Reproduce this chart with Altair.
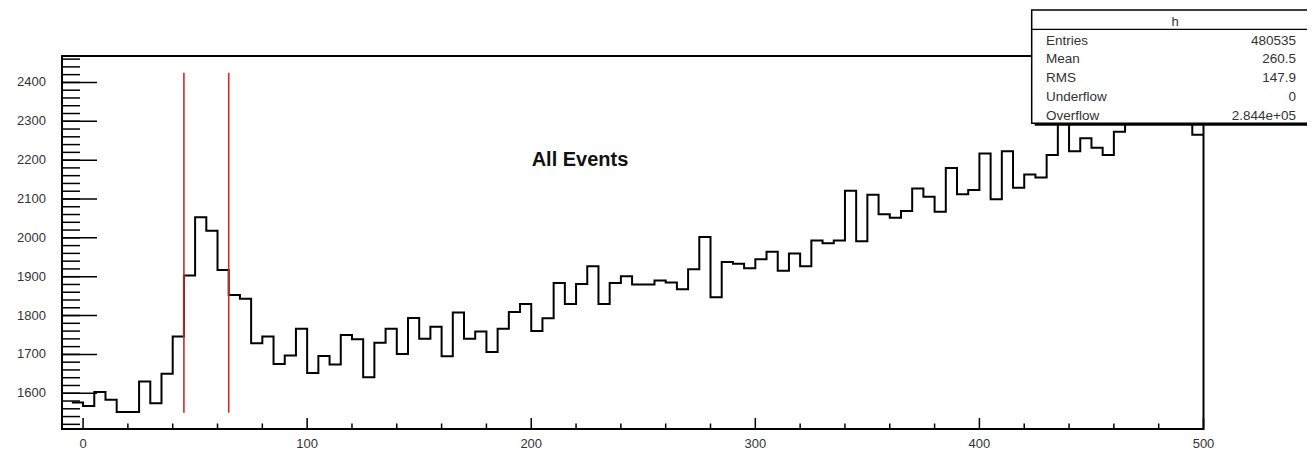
import altair as alt
import pandas as pd

# ---------------- data ----------------
BIN_LO = list(range(-5, 500, 5))          # lower edges of the 5-wide bins
COUNTS = [
    1576, 1567, 1603, 1583, 1552, 1552, 1630, 1574, 1650, 1746,
    1903, 2053, 2018, 1917, 1853, 1843, 1729, 1746, 1675, 1697,
    1766, 1652, 1696, 1674, 1750, 1739, 1641, 1730, 1766, 1701,
    1794, 1740, 1771, 1695, 1808, 1740, 1759, 1706, 1766, 1809,
    1830, 1760, 1793, 1884, 1830, 1881, 1927, 1830, 1884, 1901,
    1880, 1880, 1890, 1885, 1868, 1919, 2002, 1847, 1938, 1933,
    1922, 1945, 1964, 1915, 1960, 1927, 1993, 1986, 1993, 2121,
    1991, 2111, 2061, 2052, 2069, 2127, 2106, 2067, 2180, 2112,
    2123, 2217, 2099, 2223, 2129, 2163, 2155, 2213, 2330, 2223,
    2256, 2232, 2213, 2273, 2310, 2340, 2320, 2350, 2300, 2330,
    2265,
]
X_MAX = 500
CUT_X = [45, 65]
CUT_LO = 1550
CUT_HI = 2425

Y_MAJOR = [1600, 1700, 1800, 1900, 2000, 2100, 2200, 2300, 2400]
Y_MINOR = list(range(1520, 2461, 20))
X_MAJOR = [0, 100, 200, 300, 400, 500]
X_MINOR = [v for v in range(20, 500, 20) if v % 100 != 0]

STAT_NAMES = ["Entries", "Mean", "RMS", "Underflow", "Overflow"]
STAT_VALUES = ["480535", "260.5", "147.9", "0", "2.844e+05"]
HIST_NAME = "h"
TITLE = "All Events"

X_DOMAIN = [-9.4, 500]
Y_DOMAIN = [1508, 2468]

# ---------------- layout ----------------
W, H = 1141.5, 373
FONT = "Liberation Sans"
LABEL_COLOR = "#333"
xs = alt.Scale(domain=X_DOMAIN, nice=False, zero=False)
ys = alt.Scale(domain=Y_DOMAIN, nice=False, zero=False)

hist_df = pd.DataFrame({"x": BIN_LO + [X_MAX], "y": COUNTS + [COUNTS[-1]]})
cut_df = pd.DataFrame({"x": CUT_X, "lo": [CUT_LO] * len(CUT_X), "hi": [CUT_HI] * len(CUT_X)})
ymaj_df = pd.DataFrame({"v": Y_MAJOR})
ymin_df = pd.DataFrame({"v": Y_MINOR})
xmaj_df = pd.DataFrame({"v": X_MAJOR})
xmin_df = pd.DataFrame({"v": X_MINOR})
stat_df = pd.DataFrame({"name": STAT_NAMES, "val": STAT_VALUES, "row": list(range(len(STAT_NAMES)))})
one_df = pd.DataFrame({"a": [0]})

hist = alt.Chart(hist_df).mark_line(
    interpolate="step-after", color="black", strokeWidth=2
).encode(
    x=alt.X("x:Q", scale=xs, axis=None),
    y=alt.Y("y:Q", scale=ys, axis=None),
)

cuts = alt.Chart(cut_df).mark_rule(color="#cf2a2a", strokeWidth=1.6).encode(
    x=alt.X("x:Q", scale=xs, axis=None),
    y=alt.Y("lo:Q", scale=ys, axis=None),
    y2="hi:Q",
)

ymaj = alt.Chart(ymaj_df).mark_rule(color="black", strokeWidth=1.5).encode(
    y=alt.Y("v:Q", scale=ys, axis=None), x=alt.value(0), x2=alt.value(35))
ymin = alt.Chart(ymin_df).mark_rule(color="black", strokeWidth=1.5).encode(
    y=alt.Y("v:Q", scale=ys, axis=None), x=alt.value(0), x2=alt.value(18))
xmaj = alt.Chart(xmaj_df).mark_rule(color="black", strokeWidth=1.5).encode(
    x=alt.X("v:Q", scale=xs, axis=None), y=alt.value(H - 11), y2=alt.value(H))
xmin = alt.Chart(xmin_df).mark_rule(color="black", strokeWidth=1.5).encode(
    x=alt.X("v:Q", scale=xs, axis=None), y=alt.value(H - 5.5), y2=alt.value(H))

ylab = alt.Chart(ymaj_df).mark_text(
    font=FONT, fontSize=13, color=LABEL_COLOR, align="right", baseline="middle"
).encode(y=alt.Y("v:Q", scale=ys, axis=None), x=alt.value(-16), text="v:Q")
xlab = alt.Chart(xmaj_df).mark_text(
    font=FONT, fontSize=13, color=LABEL_COLOR, align="center", baseline="top"
).encode(x=alt.X("v:Q", scale=xs, axis=None), y=alt.value(H + 9), text="v:Q")

title = alt.Chart(one_df).mark_text(
    font=FONT, fontSize=20, fontWeight="bold", color="#111", align="center", baseline="middle"
).encode(x=alt.value(518), y=alt.value(104), text=alt.value(TITLE))

# stats box
BX0, BX1, BY0, BY1 = 969.7, 1262, -46, 67.3
shadow = alt.Chart(one_df).mark_rect(fill="black").encode(
    x=alt.value(BX0 + 3), x2=alt.value(BX1 + 3), y=alt.value(BY0 + 3), y2=alt.value(BY1 + 2.5))
box = alt.Chart(one_df).mark_rect(fill="white", stroke="black", strokeWidth=1.5).encode(
    x=alt.value(BX0), x2=alt.value(BX1), y=alt.value(BY0), y2=alt.value(BY1))
sep = alt.Chart(one_df).mark_rule(color="black", strokeWidth=1.2).encode(
    x=alt.value(BX0), x2=alt.value(BX1), y=alt.value(-26.7))
hname = alt.Chart(one_df).mark_text(
    font=FONT, fontSize=13, color=LABEL_COLOR, align="center", baseline="middle"
).encode(x=alt.value(1113), y=alt.value(-34), text=alt.value(HIST_NAME))
snames = alt.Chart(stat_df).transform_calculate(py="-15.5 + 18.8 * datum.row").mark_text(
    font=FONT, fontSize=13.5, color=LABEL_COLOR, align="left", baseline="middle"
).encode(x=alt.value(984), y=alt.Y("py:Q", scale=None, axis=None), text="name:N")
svals = alt.Chart(stat_df).transform_calculate(py="-15.5 + 18.8 * datum.row").mark_text(
    font=FONT, fontSize=13.5, color=LABEL_COLOR, align="right", baseline="middle"
).encode(x=alt.value(1234), y=alt.Y("py:Q", scale=None, axis=None), text="val:N")

chart = alt.layer(
    hist, cuts, ymaj, ymin, xmaj, xmin, ylab, xlab, title,
    shadow, box, sep, hname, snames, svals
).properties(
    width=W, height=H,
    background="white",
    padding={"left": 54, "top": 48, "right": 103, "bottom": 22},
    autosize=alt.AutoSizeParams(type="none"),
).configure_view(
    stroke="black", strokeWidth=2
)

chart.save("out.html", embed_options={"renderer": "svg", "actions": False})
